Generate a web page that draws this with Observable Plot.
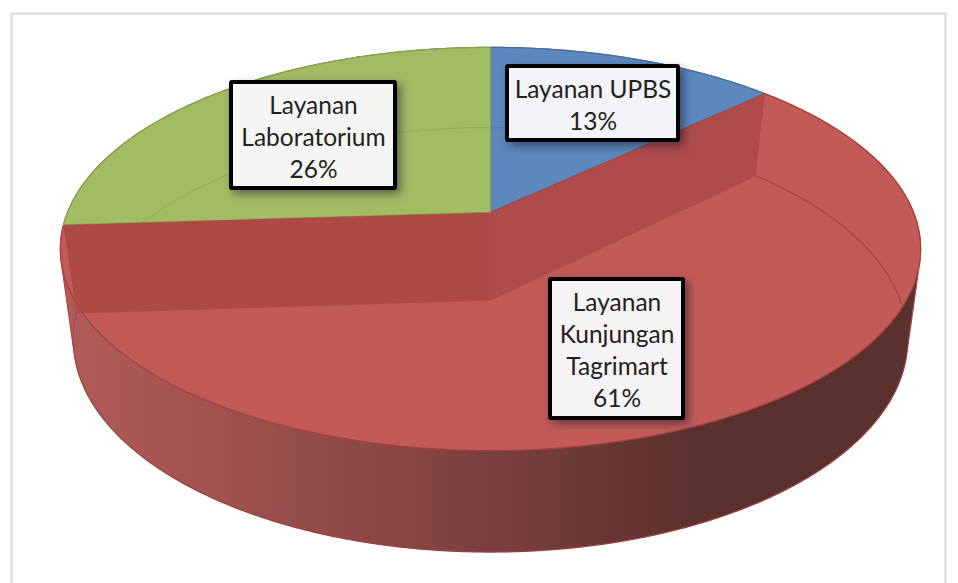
<!DOCTYPE html>
<html>
<head>
<meta charset="utf-8">
<script src="https://cdn.jsdelivr.net/npm/d3@7"></script>
<script src="https://cdn.jsdelivr.net/npm/@observablehq/plot@0.6"></script>
<style>
html,body{margin:0;padding:0;background:#fff;overflow:hidden}
svg{display:block}
</style>
</head>
<body>
<div id="chart"></div>
<script>
// Data (clockwise from 12 o'clock)
const categories = ["Layanan UPBS", "Layanan Kunjungan Tagrimart", "Layanan Laboratorium"];
const shares = [13, 61, 26];
const labelLines = ["Layanan UPBS\n13%", "Layanan\nKunjungan\nTagrimart\n61%", "Layanan\nLaboratorium\n26%"];

// Layout (perspective planes of the pie, label boxes, colours)
const upperPlane = {cx: 490, cy: 212, a: 423, b: 195, p: 0.181};
const lowerPlane = {cx: 490, cy: 300, a: 410, b: 205, p: 0.185};
const boxes = [
  {x1: 507, x2: 678, y1: 66, y2: 140},
  {x1: 550, x2: 683, y1: 279, y2: 418},
  {x1: 231, x2: 395, y1: 82, y2: 188}
];
const fills = ["#5c88be", "#c25b58", "#a1bc63"];
const edges = ["#44709f", "#a8403d", "#88a34f"];

// d3.pie turns the shares into the angle of each wedge
const arcs = d3.pie().sort(null)(shares);
const project = (pl, t) => {
  const u = Math.sin(t), v = Math.cos(t), w = 1 + pl.p * v;
  return {x: pl.cx + pl.a * u / w, y: pl.cy - pl.b * v / w};
};
const arcPoints = (pl, a0, a1) => {
  const n = Math.max(2, Math.ceil(Math.abs(a1 - a0) / 0.01));
  return d3.range(n + 1).map(i => project(pl, a0 + (a1 - a0) * i / n));
};
const centre = pl => ({x: pl.cx, y: pl.cy});
const closed = pts => [...pts, pts[0]];
const wedge = (pl, arc) => closed([centre(pl), ...arcPoints(pl, arc.startAngle, arc.endAngle)]);

const TAU = Math.PI * 2;
const rimUpper = arcPoints(upperPlane, 0, TAU);
const rimLower = arcPoints(lowerPlane, 0, TAU);
const hull = d3.polygonHull([...rimUpper, ...rimLower].map(d => [d.x, d.y])).map(([x, y]) => ({x, y}));
const red = arcs[1];
const XY = {x: "x", y: "y"};

const panel = a => closed([project(upperPlane, a), centre(upperPlane), centre(lowerPlane), project(lowerPlane, a)]);
const upperPoly = rimUpper.map(d => [d.x, d.y]);
const innerVisible = arcPoints(lowerPlane, red.startAngle, red.startAngle + 1.6)
  .filter(d => d3.polygonContains(upperPoly, [d.x, d.y]));
const ghost = arcPoints(lowerPlane, red.endAngle - TAU, red.startAngle);

const gradient = () => {
  const defs = d3.create("svg:defs");
  const g = defs.append("linearGradient").attr("id", "wall")
    .attr("gradientUnits", "userSpaceOnUse")
    .attr("x1", 60).attr("x2", 700).attr("y1", 0).attr("y2", 0);
  [[0, "#b25b59"], [0.25, "#a05250"], [0.67, "#7b403e"], [1, "#5a302e"]].forEach(([o, c]) =>
    g.append("stop").attr("offset", o).attr("stop-color", c));
  return defs.node();
};

const chart = Plot.plot({
  width: 958, height: 583,
  margin: 0,
  x: {domain: [0, 958], range: [0, 958], axis: null},
  y: {domain: [0, 583], range: [0, 583], axis: null},
  style: {background: "#fff"},
  marks: [
    gradient,
    // chart frame
    Plot.ruleY([13], {x1: 11, x2: 945, stroke: "#d9d9d9", strokeWidth: 2}),
    Plot.ruleX([11, 945], {y1: 13, y2: 583, stroke: "#d9d9d9", strokeWidth: 2}),
    // outer wall
    Plot.line(closed(hull), {...XY, fill: "url(#wall)", stroke: "#a8484a", strokeWidth: 1.2}),
    Plot.line(rimLower, {...XY, stroke: "#7a2e2c", strokeOpacity: 0.35, strokeWidth: 1}),
    // top surface wedges
    ...arcs.map((arc, i) => Plot.line(wedge(upperPlane, arc), {...XY, fill: fills[i], stroke: edges[i], strokeWidth: 1.3})),
    // sunken rim seen through the green and blue wedges
    Plot.line(ghost, {...XY, stroke: "#000", strokeOpacity: 0.07, strokeWidth: 1.3}),
    // inner walls of the red wedge
    Plot.line(panel(red.endAngle), {...XY, fill: "#ad4a46"}),
    Plot.line(panel(red.startAngle), {...XY, fill: "#af4b4b"}),
    // sunken rim on the curved inner wall
    Plot.line(innerVisible, {...XY, stroke: "#aa4542", strokeWidth: 1.4}),
    Plot.line(panel(red.startAngle).slice(2, 4), {...XY, stroke: "#b9504e", strokeWidth: 1}),
    // labels
    Plot.rect(boxes, {x1: "x1", x2: "x2", y1: "y1", y2: "y2", fill: "#fff", fillOpacity: 0.94, stroke: "#000", strokeWidth: 4, r: 1}),
    Plot.text(labelLines, {
      x: (d, i) => (boxes[i].x1 + boxes[i].x2) / 2,
      y: (d, i) => (boxes[i].y1 + boxes[i].y2) / 2,
      text: d => d,
      fontFamily: "Lato",
      fontSize: 24.5,
      lineHeight: 1.31,
      fill: "#222",
      lineAnchor: "middle"
    })
  ]
});
d3.select(chart).selectAll('g[aria-label="rect"] > *')
  .style("filter", "drop-shadow(4px 4px 4px rgba(20,20,40,0.5))");
document.getElementById("chart").append(chart);
</script>
</body>
</html>
